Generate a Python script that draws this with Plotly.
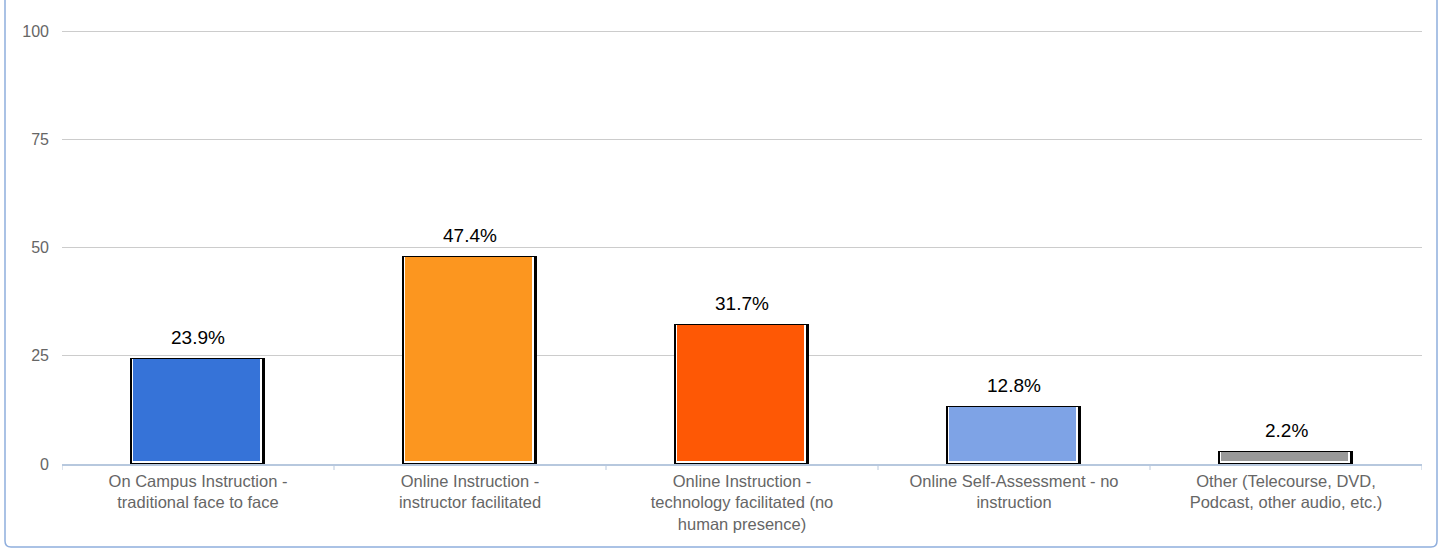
import plotly.graph_objects as go

categories = [
    "On Campus Instruction -<br>traditional face to face",
    "Online Instruction -<br>instructor facilitated",
    "Online Instruction -<br>technology facilitated (no<br>human presence)",
    "Online Self-Assessment - no<br>instruction",
    "Other (Telecourse, DVD,<br>Podcast, other audio, etc.)",
]
values = [23.9, 47.4, 31.7, 12.8, 2.2]
labels = ["23.9%", "47.4%", "31.7%", "12.8%", "2.2%"]
colors = ["#3673D8", "#FC961F", "#FE5805", "#7EA3E6", "#999999"]
ytick_vals = [0, 25, 50, 75, 100]

W, H = 1442, 550
PX_PER_UNIT = 4.33
YMAX = 101
L, R, B = 62, 20, 86
T = 31 - (YMAX - 100) * PX_PER_UNIT
plot_w = W - L - R
plot_h = H - T - B
xpx = len(categories) / plot_w          # data units per pixel (x)
ypx = YMAX / plot_h                     # data units per pixel (y)
AXIS_COLOR = "#B7C8DE"

xs = list(range(len(categories)))
fig = go.Figure()

# black outline / shadow
fig.add_trace(go.Bar(
    x=xs, y=[v + 3 * ypx for v in values], base=0,
    width=135 * xpx, offset=-68 * xpx,
    marker=dict(color="#000000", line=dict(width=0)),
    hoverinfo="skip", showlegend=False,
))
# white inner border
fig.add_trace(go.Bar(
    x=xs, y=[v + 1 * ypx for v in values], base=1 * ypx,
    width=130 * xpx, offset=-66.5 * xpx,
    marker=dict(color="#FFFFFF", line=dict(width=0)),
    hoverinfo="skip", showlegend=False,
))
# colored fill
fig.add_trace(go.Bar(
    x=xs, y=[v - 1 * ypx for v in values], base=3 * ypx,
    width=127 * xpx, offset=-65 * xpx,
    marker=dict(color=colors, line=dict(width=0)),
    hoverinfo="skip", showlegend=False,
))

for x, v, t in zip(xs, values, labels):
    fig.add_annotation(
        x=x, y=v, text=t, showarrow=False, yanchor="bottom", yshift=11,
        font=dict(family="Liberation Sans, Arial, sans-serif", size=19, color="#000000"),
    )

# category boundary ticks
for i in range(len(categories) + 1):
    fig.add_shape(type="line", xref="x", yref="paper",
                  x0=i - 0.5, x1=i - 0.5, y0=0, y1=-6 / plot_h,
                  line=dict(color=AXIS_COLOR, width=1))

# rounded frame
fx0, fx1 = (5 - L) / plot_w, (1437 - L) / plot_w
fy0, fy1 = (H - B - 547) / plot_h, (H - B + 20) / plot_h
rx, ry = 6 / plot_w, 6 / plot_h
path = (f"M {fx0+rx},{fy0} L {fx1-rx},{fy0} Q {fx1},{fy0} {fx1},{fy0+ry} "
        f"L {fx1},{fy1-ry} Q {fx1},{fy1} {fx1-rx},{fy1} L {fx0+rx},{fy1} "
        f"Q {fx0},{fy1} {fx0},{fy1-ry} L {fx0},{fy0+ry} Q {fx0},{fy0} {fx0+rx},{fy0} Z")
fig.add_shape(type="path", path=path, xref="paper", yref="paper",
              line=dict(color="#8FAEDD", width=1.5), layer="below")

fig.update_layout(
    width=W, height=H,
    margin=dict(l=L, r=R, t=T, b=B),
    paper_bgcolor="#FFFFFF", plot_bgcolor="#FFFFFF",
    barmode="overlay", bargap=0,
    font=dict(family="Liberation Sans, Arial, sans-serif", size=16, color="#666666"),
    xaxis=dict(
        tickmode="array", tickvals=xs, ticktext=categories,
        range=[-0.5, len(categories) - 0.5],
        showgrid=False, zeroline=False,
        showline=True, linecolor=AXIS_COLOR, linewidth=2,
        ticks="",
        tickfont=dict(size=16.5, color="#666666"), ticklabelstandoff=1,
        fixedrange=True,
    ),
    yaxis=dict(
        range=[0, YMAX], tickmode="array", tickvals=ytick_vals,
        showgrid=True, gridcolor="#CCCCCC", gridwidth=1,
        zeroline=False, showline=False, ticks="",
        tickfont=dict(size=16, color="#666666"), ticklabelstandoff=12,
        fixedrange=True,
    ),
)

fig.write_html("out.html", config={"displayModeBar": False},
               post_script="document.body.style.margin='0';")
